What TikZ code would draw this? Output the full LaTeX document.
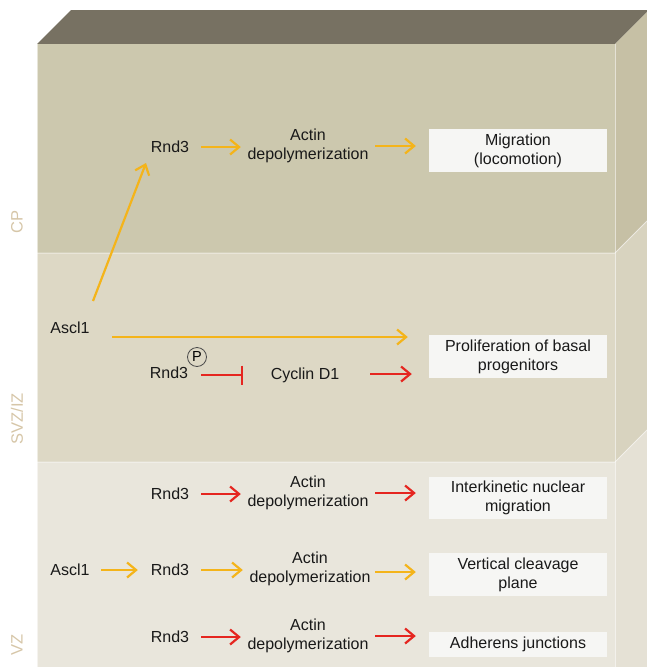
\documentclass[tikz,border=0pt]{standalone}
\usepackage{fontspec}
\setmainfont{Liberation Sans}
\usetikzlibrary{arrows.meta,calc}
\definecolor{topc}{HTML}{777162}
\definecolor{cpf}{HTML}{CCC8AE}
\definecolor{svzf}{HTML}{DDD8C5}
\definecolor{vzf}{HTML}{E9E6DC}
\definecolor{cps}{HTML}{C6C0A5}
\definecolor{svzs}{HTML}{D8D3BF}
\definecolor{vzs}{HTML}{E5E1D5}
\definecolor{boxc}{HTML}{F6F6F4}
\definecolor{zonec}{HTML}{D6C6A8}
\definecolor{yel}{HTML}{F4B41A}
\definecolor{rd}{HTML}{E52620}
\tikzset{
  lbl/.style={font=\fontsize{16}{19}\selectfont, align=center, inner sep=0pt, text=black!90},
  gene/.style={lbl, minimum width=62pt},
  actin/.style={lbl, minimum width=134pt},
  outbox/.style={lbl, fill=boxc, minimum width=178pt},
  zone/.style={font=\fontsize{16.5}{19}\selectfont, text=zonec, rotate=90, inner sep=0pt},
  ya/.style={draw=yel, line width=2.2pt, -{Straight Barb[length=9pt,width=15pt]}},
  ra/.style={draw=rd, line width=2.2pt, -{Straight Barb[length=9pt,width=15pt]}},
  rinh/.style={draw=rd, line width=2.2pt, -{Bar[width=19pt]}},
  edge/.style={draw=white, opacity=0.55, line width=1pt}
}
\begin{document}
\begin{tikzpicture}[x=1pt,y=-1pt]
\useasboundingbox (0,0) rectangle (647,667);
% block faces
\fill[topc] (37,44) -- (71,10) -- (647,10) -- (647,12) -- (615,44) -- cycle;
\fill[cps] (615,44) -- (647,12) -- (647,221) -- (615,253) -- cycle;
\fill[svzs] (615,253) -- (647,221) -- (647,430) -- (615,462) -- cycle;
\fill[vzs] (615,462) -- (647,430) -- (647,667) -- (615,667) -- cycle;
\fill[cpf] (37,44) rectangle (615,253);
\fill[svzf] (37,253) rectangle (615,462);
\fill[vzf] (37,462) rectangle (615,667);
\draw[edge] (37,253) -- (615,253) -- (647,221);
\draw[edge] (37,462) -- (615,462) -- (647,430);
\draw[edge] (615,44) -- (615,667);
\draw[edge] (37,44) -- (37,667);
% zone labels
\node[zone] (zcp) at (17,222) {CP};
\node[zone] (zsvz) at (17,419) {SVZ/IZ};
\node[zone] (zvz) at (17,645) {VZ};
% CP row
\node[gene] (r1) at (170,147) {Rnd3};
\node[actin] (a1) at (308,146) {Actin\\depolymerization};
\node[outbox, minimum height=43pt] (m1) at (518,150.5) {Migration\\(locomotion)};
\draw[ya] (r1.east) -- (r1.east -| a1.west);
\draw[ya, shorten >=13pt] (a1.east) -- (a1.east -| m1.west);
% SVZ rows
\node[gene] (as1) at (70,328) {Ascl1};
\node[outbox, minimum height=43pt] (m2) at (518,356.5) {Proliferation of basal\\progenitors};
\node[gene] (r2) at (169,373) {Rnd3};
\node[circle, draw=black!70, line width=0.8pt, minimum size=19pt, inner sep=0pt,
      font=\fontsize{14.5}{14.5}\selectfont] (p) at (197,357) {P};
\node[lbl, minimum width=124pt] (cyc) at (305,375) {Cyclin D1};
\coordinate (d1) at ($(as1)+(23,-27)$);
\coordinate (d2) at ($(r1)+(-24,16)$);
\draw[ya] (d1) -- (d2);
\coordinate (l1) at (112,337);
\draw[ya, shorten >=21pt] (l1) -- (l1 -| m2.west);
\coordinate (i1) at (201,375);
\draw[rinh] (i1) -- (i1 -| cyc.west);
\coordinate (c1) at (370,374);
\draw[ra, shorten >=17pt] (c1) -- (c1 -| m2.west);
% VZ row 1
\node[gene] (r3) at (170,494) {Rnd3};
\node[actin] (a3) at (308,493) {Actin\\depolymerization};
\node[outbox, minimum height=42pt] (m3) at (518,498) {Interkinetic nuclear\\migration};
\draw[ra] (r3.east) -- (r3.east -| a3.west);
\draw[ra, shorten >=13pt] (a3.east) -- (a3.east -| m3.west);
% VZ row 2
\node[gene] (as2) at (70,570) {Ascl1};
\node[gene] (r4) at (170,570) {Rnd3};
\node[actin] (a4) at (310,569) {Actin\\depolymerization};
\node[outbox, minimum height=43pt] (m4) at (518,574.5) {Vertical cleavage\\plane};
\draw[ya, shorten >=1pt] (as2.east) -- (as2.east -| r4.west);
\draw[ya] (r4.east) -- (r4.east -| a4.west);
\coordinate (v1) at (375,572);
\draw[ya, shorten >=13pt] (v1) -- (v1 -| m4.west);
% VZ row 3
\node[gene] (r5) at (170,637) {Rnd3};
\node[actin] (a5) at (308,636) {Actin\\depolymerization};
\node[outbox, minimum height=25pt] (m5) at (518,644) {Adherens junctions};
\draw[ra] (r5.east) -- (r5.east -| a5.west);
\draw[ra, shorten >=13pt] (a5.east) -- (a5.east -| m5.west);
\end{tikzpicture}
\end{document}
